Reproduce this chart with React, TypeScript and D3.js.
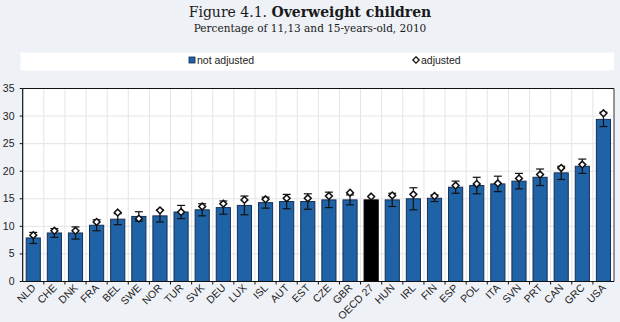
import React from "react";
import * as d3 from "d3";

const categories = ["NLD","CHE","DNK","FRA","BEL","SWE","NOR","TUR","SVK","DEU","LUX","ISL","AUT","EST","CZE","GBR","OECD 27","HUN","IRL","FIN","ESP","POL","ITA","SVN","PRT","CAN","GRC","USA"];
const notAdjusted = [7.9,8.8,8.8,10.2,11.3,11.8,11.9,12.6,13.0,13.4,13.8,14.3,14.5,14.5,14.8,14.8,14.8,14.8,15.0,15.1,17.1,17.4,17.7,18.2,18.9,19.7,20.9,29.4];
const adjusted = [8.4,9.2,9.2,10.8,12.5,11.4,12.9,12.6,13.6,14.1,14.8,14.9,15.1,15.1,15.5,16.1,15.4,15.6,15.8,15.5,17.4,17.7,17.8,18.7,19.4,20.6,21.2,30.5];
const errors = [1.0,0.8,1.1,1.0,1.0,0.85,1.1,1.2,1.1,1.2,1.7,1.0,1.3,1.4,1.4,0.9,0,1.2,2.0,0.6,1.1,1.5,1.4,1.4,1.5,1.2,1.3,1.3];
const yTicks = [0,5,10,15,20,25,30,35];
const highlight = "OECD 27";

const W = 620, H = 322;
const plot = { left: 22.7, right: 614, top: 88.5, bottom: 281.5 };
const labelFont = "'Liberation Sans Narrow', 'Arial Narrow', 'Liberation Sans', Arial, sans-serif";
const serif = "'DejaVu Serif', 'Liberation Serif', serif";

export default function App() {
  const x = d3.scaleBand<string>().domain(categories).range([plot.left, plot.right]).paddingInner(0.33).paddingOuter(0.165);
  const y = d3.scaleLinear().domain([0, 35]).range([plot.bottom, plot.top]);
  const step = x.step();
  const bw = x.bandwidth();
  const start = plot.left;
  const bounds = d3.range(1, categories.length).map((i) => start + i * step);
  const squareDiamond = "M0,-4L4,0L0,4L-4,0Z";

  return (
    <svg width={W} height={H} style={{ position: "absolute", left: 0, top: 0 }}>
      <rect x={0} y={0} width={W} height={H} fill="#eef1f6" />
      <text x={310} y={17} textAnchor="middle" fontFamily={serif} fontSize={14} fill="#1a1a1a">
        Figure 4.1. <tspan fontWeight="bold">Overweight children</tspan>
      </text>
      <text x={310} y={32} textAnchor="middle" fontFamily={serif} fontSize={10.5} fill="#1a1a1a">
        Percentage of 11,13 and 15-years-old, 2010
      </text>
      {/* legend */}
      <rect x={20.5} y={52.5} width={593.5} height={18} fill="#ffffff" />
      <rect x={189} y={57} width={6} height={6} fill="#1f63a6" stroke="#10284a" strokeWidth={0.8} />
      <text x={197} y={63.5} fontFamily={labelFont} fontSize={10.5} fill="#222">not adjusted</text>
      <path d={squareDiamond} transform="translate(416,60) scale(0.8)" fill="#fff" stroke="#111" strokeWidth={1.6} />
      <text x={421} y={63.5} fontFamily={labelFont} fontSize={10.5} fill="#222">adjusted</text>

      {/* plot area */}
      <rect x={plot.left} y={plot.top} width={plot.right - plot.left} height={plot.bottom - plot.top} fill="#ffffff" />
      {yTicks.slice(1, -1).map((t) => (
        <line key={"hg" + t} x1={plot.left} x2={plot.right} y1={y(t)} y2={y(t)} stroke="#e4e4e4" strokeWidth={1} />
      ))}
      {bounds.map((b, i) => (
        <line key={"vg" + i} x1={b} x2={b} y1={plot.top} y2={plot.bottom} stroke="#e4e4e4" strokeWidth={1} />
      ))}
      {/* border */}
      <line x1={plot.left} x2={plot.right} y1={plot.top} y2={plot.top} stroke="#111" strokeWidth={1.2} />
      <line x1={plot.right} x2={plot.right} y1={plot.top} y2={plot.bottom} stroke="#333" strokeWidth={1} />

      {/* bars */}
      {categories.map((c, i) => (
        <rect key={"b" + c} x={x(c)} y={y(notAdjusted[i])} width={bw} height={y(0) - y(notAdjusted[i])}
          fill={c === highlight ? "#000000" : "#1f63a6"} stroke={c === highlight ? "#000" : "#142f55"} strokeWidth={1} />
      ))}
      {/* error bars */}
      {categories.map((c, i) => {
        if (!errors[i]) return null;
        const cx = (x(c) as number) + bw / 2;
        const hi = y(notAdjusted[i] + errors[i]);
        const lo = y(notAdjusted[i] - errors[i]);
        return (
          <g key={"e" + c} stroke="#111" strokeWidth={1.2}>
            <line x1={cx} x2={cx} y1={hi} y2={lo} />
            <line x1={cx - 4} x2={cx + 4} y1={hi} y2={hi} />
            <line x1={cx - 4} x2={cx + 4} y1={lo} y2={lo} />
          </g>
        );
      })}
      {/* adjusted markers */}
      {categories.map((c, i) => {
        const cx = (x(c) as number) + bw / 2;
        return (
          <path key={"d" + c} d={squareDiamond} transform={`translate(${cx},${y(adjusted[i])}) scale(0.85)`}
            fill="#fff" stroke="#111" strokeWidth={1.8} />
        );
      })}

      {/* axes */}
      <line x1={plot.left} x2={plot.left} y1={plot.top} y2={plot.bottom} stroke="#111" strokeWidth={1.2} />
      <line x1={plot.left} x2={plot.right} y1={plot.bottom} y2={plot.bottom} stroke="#111" strokeWidth={1.2} />
      {yTicks.map((t) => (
        <g key={"yt" + t}>
          <line x1={plot.left - 3} x2={plot.left} y1={y(t)} y2={y(t)} stroke="#111" strokeWidth={1} />
          <text x={14.5} y={y(t) + 3.5} textAnchor="end" fontFamily={labelFont} fontSize={10.5} fill="#222">{t}</text>
        </g>
      ))}
      {bounds.map((b, i) => (
        <line key={"xt" + i} x1={b} x2={b} y1={plot.bottom} y2={plot.bottom + 3} stroke="#111" strokeWidth={1} />
      ))}
      {categories.map((c) => {
        const cx = (x(c) as number) + bw / 2 + 3;
        return (
          <text key={"xl" + c} transform={`translate(${cx},${plot.bottom + 7}) rotate(-45)`} textAnchor="end"
            fontFamily={labelFont} fontSize={10.5} fill="#222">{c}</text>
        );
      })}
    </svg>
  );
}
